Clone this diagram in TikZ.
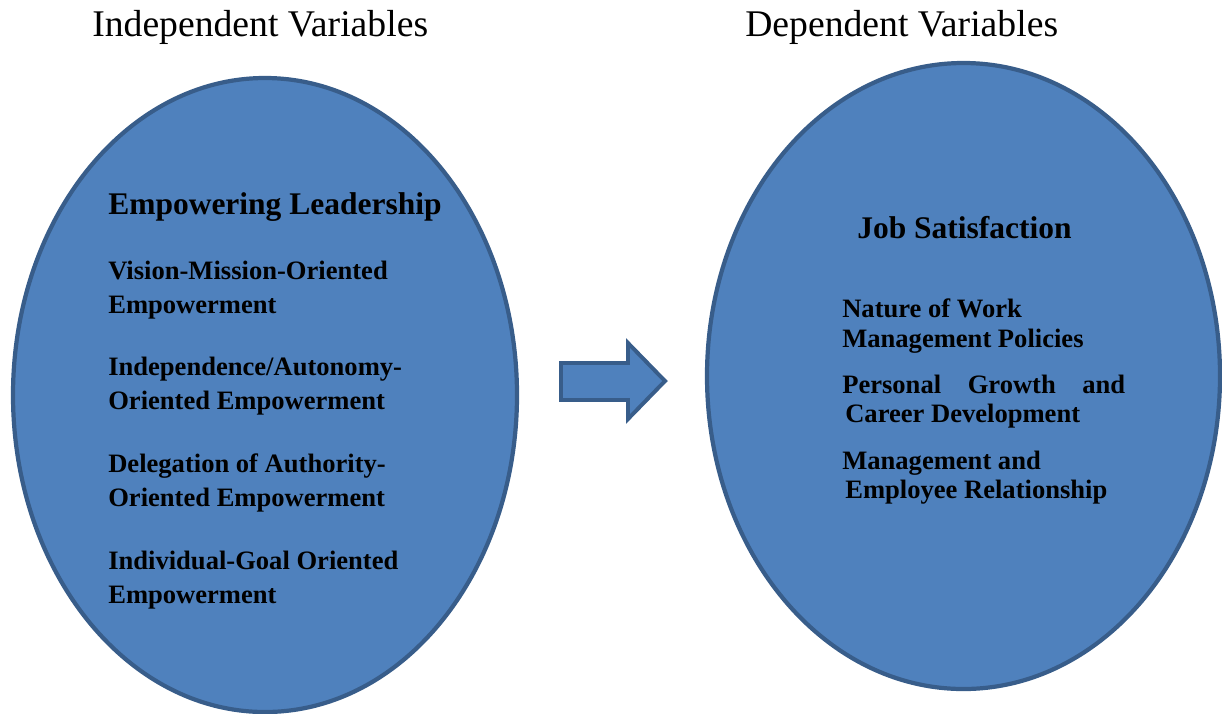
\documentclass[tikz,border=0pt]{standalone}
\usepackage{fontspec}
\setmainfont{Liberation Serif}
\usetikzlibrary{shapes.geometric}
\definecolor{ovalfill}{HTML}{4F81BD}
\definecolor{ovalline}{HTML}{385D8A}
\begin{document}
\begin{tikzpicture}[
    head/.style={anchor=base west, inner sep=0pt, font=\fontsize{26.8}{31}\selectfont},
    title/.style={anchor=base west, inner sep=0pt, font=\fontsize{22.4}{27}\selectfont\bfseries},
    item/.style={anchor=base west, inner sep=0pt, font=\fontsize{18.9}{23}\selectfont\bfseries},
    oval/.style={draw=ovalline, fill=ovalfill, ellipse, line width=3pt, inner sep=0pt}]
    \useasboundingbox (0,0) rectangle (30.55,-17.825);

    \node[head] (indephead) at (2.3,-0.92) {Independent Variables};
    \node[head] (dephead) at (18.625,-0.92) {Dependent Variables};

    \node[oval, minimum width=12.6cm, minimum height=15.85cm] (indep) at (6.625,-9.875) {};
    \node[oval, minimum width=12.825cm, minimum height=15.65cm] (dep) at (24.0875,-9.4) {};

    \draw[draw=ovalline, fill=ovalfill, line width=2.8pt, line join=miter]
        (14.025,-9.075) -- (15.7,-9.075) -- (15.7,-8.575) -- (16.625,-9.525)
        -- (15.7,-10.475) -- (15.7,-10.0) -- (14.025,-10.0) -- cycle;

    \node[title] (leader) at (2.7,-5.35) {Empowering Leadership};
    \node[item] (vision) at (2.7,-6.975) {Vision-Mission-Oriented};
    \node[item] (visionb) at (2.7,-7.825) {Empowerment};
    \node[item] (autonomy) at (2.7,-9.375) {Independence/Autonomy-};
    \node[item] (autonomyb) at (2.7,-10.225) {Oriented Empowerment};
    \node[item] (delegation) at (2.7,-11.8) {Delegation of Authority-};
    \node[item] (delegationb) at (2.7,-12.65) {Oriented Empowerment};
    \node[item] (goal) at (2.7,-14.225) {Individual-Goal Oriented};
    \node[item] (goalb) at (2.7,-15.075) {Empowerment};

    \node[title] (jobsat) at (21.425,-5.95) {Job Satisfaction};
    \node[item] (nature) at (21.05,-7.925) {Nature of Work};
    \node[item] (policies) at (21.05,-8.675) {Management Policies};
    \node[item] (growth) at (21.05,-9.825) {\makebox[7.075cm][s]{Personal Growth and}};
    \node[item] (career) at (21.125,-10.55) {Career Development};
    \node[item] (relation) at (21.05,-11.725) {Management and};
    \node[item] (relationb) at (21.125,-12.45) {Employee Relationship};
\end{tikzpicture}
\end{document}
